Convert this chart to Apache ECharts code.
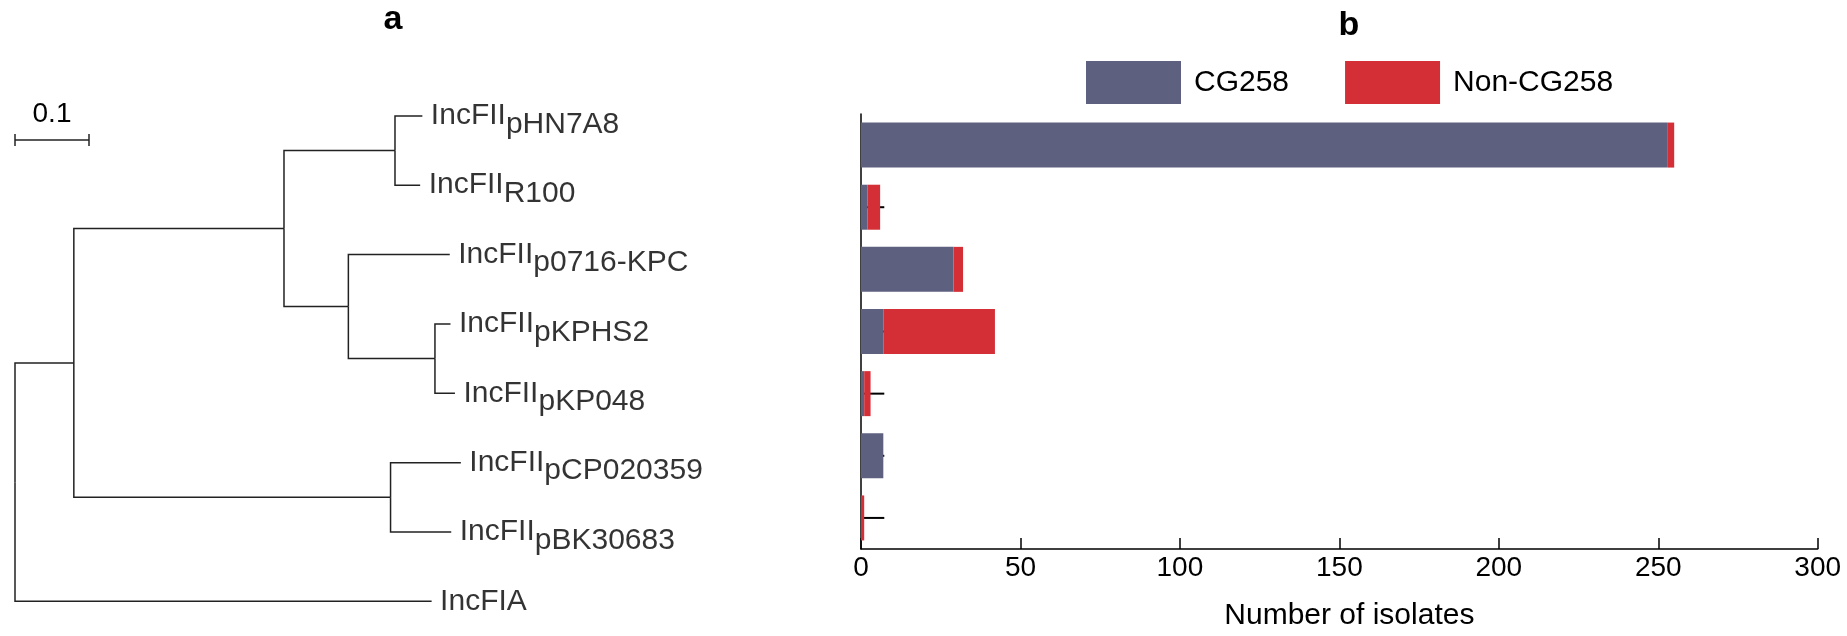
<!DOCTYPE html>
<html><head><meta charset="utf-8">
<script src="https://cdn.jsdelivr.net/npm/echarts@6/dist/echarts.min.js"></script>
<style>html,body{margin:0;padding:0;background:#fff}#c{width:1847px;height:636px}</style>
</head><body><div id="c"></div>
<script>
// ---- bar chart data (panel b) ----
const categories = ['pHN7A8','R100','p0716-KPC','pKPHS2','pKP048','pCP020359','pBK30683'];
const cg258 = [253, 2, 29, 7, 1, 7, 0];
const nonCg258 = [2, 4, 3, 35, 2, 0, 1];
const whiskerEnd = [7.3, 7.3, 7.3, 7.3, 7.3, 7.3, 7.3];
const xTicks = [0, 50, 100, 150, 200, 250, 300];
const seriesNames = ['CG258', 'Non-CG258'];

// ---- tree data (panel a) ----
const treeNodes = ['root','n1','n2','n3','pHN7A8','R100','n4','p0716-KPC','n5','pKPHS2','pKP048','n6','pCP020359','pBK30683','IncFIA'];
const treeParents = [null,'root','n1','n2','n3','n3','n2','n4','n4','n5','n5','n1','n6','n6','root'];
const branchLengths = [0, 0.0795, 0.284, 0.150, 0.037, 0.034, 0.087, 0.137, 0.117, 0.021, 0.027, 0.428, 0.095, 0.082, 0.563];
const familyName = 'IncFII';
const scaleBarLength = [0.1];

const FONT = 'Liberation Sans, Arial, Helvetica, sans-serif';

// tree layout from structure
const idx = {}; treeNodes.forEach((nm, i) => idx[nm] = i);
const children = treeNodes.map(() => []);
treeParents.forEach((p, i) => { if (p !== null) children[idx[p]].push(i); });
const X = [], Y = [];
let leafCount = 0;
function walk(i, x) {
  X[i] = x + branchLengths[i];
  if (!children[i].length) { Y[i] = leafCount++; }
  else {
    children[i].forEach(c => walk(c, X[i]));
    Y[i] = children[i].reduce((s, c) => s + Y[c], 0) / children[i].length;
  }
}
walk(0, 0);
const branchData = [];
treeNodes.forEach((nm, i) => {
  const p = treeParents[i];
  if (p === null) return;
  const pi = idx[p];
  branchData.push({ coords: [[X[pi], Y[pi]], [X[pi], Y[i]], [X[i], Y[i]]] });
});
const leafData = [];
treeNodes.forEach((nm, i) => {
  if (!children[i].length) leafData.push({ name: nm, value: [X[i], Y[i]] });
});

const chart = echarts.init(document.getElementById('c'));
const leafSpacing = 69.9, leaf0Y = 116.7;
chart.setOption({
  animation: false,
  textStyle: { fontFamily: FONT },
  title: [
    { text: 'a', left: 393, top: 3, textAlign: 'center', padding: 0,
      textStyle: { fontSize: 34, fontWeight: 'bold', color: '#000', fontFamily: FONT } },
    { text: 'b', left: 1349, top: 9, textAlign: 'center', padding: 0,
      textStyle: { fontSize: 34, fontWeight: 'bold', color: '#000', fontFamily: FONT } }
  ],
  legend: {
    data: seriesNames, left: 1086, top: 61, padding: 0, itemGap: 56,
    itemWidth: 95, itemHeight: 43, icon: 'rect',
    textStyle: { fontSize: 30, color: '#000', fontFamily: FONT, padding: [0, 0, 0, 8] }
  },
  grid: [
    { left: 15, top: leaf0Y - 1.5 * leafSpacing, width: 740, height: 9 * leafSpacing },
    { left: 861, right: 29.3, top: 114, bottom: 82 }
  ],
  xAxis: [
    { gridIndex: 0, type: 'value', min: 0, max: 1, show: false },
    { gridIndex: 1, type: 'value', min: xTicks[0], max: xTicks[xTicks.length - 1], interval: xTicks[1] - xTicks[0],
      axisLine: { show: true, lineStyle: { color: '#000', width: 1.5 } },
      axisTick: { show: true, inside: true, length: 11, lineStyle: { color: '#000', width: 1.5 } },
      axisLabel: { fontSize: 28, color: '#000', margin: 5, fontFamily: FONT },
      splitLine: { show: false },
      name: 'Number of isolates', nameLocation: 'middle', nameGap: 52,
      nameTextStyle: { fontSize: 30, color: '#000', fontFamily: FONT, padding: [0, 0, 0, 20] } }
  ],
  yAxis: [
    { gridIndex: 0, type: 'value', min: -1.5, max: 7.5, inverse: true, show: false },
    { gridIndex: 1, type: 'category', data: categories, inverse: true,
      axisLine: { show: true, lineStyle: { color: '#000', width: 1.5 } },
      axisTick: { show: false }, axisLabel: { show: false } }
  ],
  series: [
    { type: 'lines', coordinateSystem: 'cartesian2d', xAxisIndex: 0, yAxisIndex: 0,
      polyline: true, silent: true, clip: false,
      lineStyle: { color: '#222', width: 1.5, opacity: 1 }, data: branchData },
    { type: 'scatter', xAxisIndex: 0, yAxisIndex: 0, symbolSize: 1, silent: true,
      itemStyle: { color: 'rgba(0,0,0,0)' }, data: leafData,
      label: { show: true, position: 'right', distance: 8, color: '#000',
        formatter: p => categories.indexOf(p.name) >= 0 ? '{m|' + familyName + '}{s|' + p.name + '}' : '{m|' + p.name + '}',
        rich: {
          m: { fontSize: 30, color: '#000', fontFamily: FONT },
          s: { fontSize: 30, color: '#000', fontFamily: FONT, padding: [17, 0, 0, 0] }
        } } },
    { type: 'custom', xAxisIndex: 0, yAxisIndex: 0, silent: true,
      data: scaleBarLength.map(v => [0, v]),
      renderItem: (params, api) => {
        const yBar = 0.348;
        const a = api.coord([api.value(0), yBar]);
        const b = api.coord([api.value(0) + api.value(1), yBar]);
        const st = { stroke: '#222', lineWidth: 1.5 };
        return { type: 'group', children: [
          { type: 'line', shape: { x1: a[0], y1: a[1], x2: b[0], y2: b[1] }, style: st },
          { type: 'line', shape: { x1: a[0], y1: a[1] - 6, x2: a[0], y2: a[1] + 6 }, style: st },
          { type: 'line', shape: { x1: b[0], y1: b[1] - 6, x2: b[0], y2: b[1] + 6 }, style: st },
          { type: 'text', style: { text: String(api.value(1)), x: (a[0] + b[0]) / 2, y: a[1] - 26,
              align: 'center', verticalAlign: 'middle', fontSize: 28, fontFamily: FONT, fill: '#000' } }
        ] };
      } },
    { type: 'custom', xAxisIndex: 1, yAxisIndex: 1, silent: true, z: 1,
      data: whiskerEnd.map((v, i) => [v, i]),
      renderItem: (params, api) => {
        const a = api.coord([0, api.value(1)]);
        const b = api.coord([api.value(0), api.value(1)]);
        return { type: 'line', shape: { x1: a[0], y1: a[1], x2: b[0], y2: b[1] }, style: { stroke: '#000', lineWidth: 2 } };
      } },
    { name: seriesNames[0], type: 'bar', stack: 'total', xAxisIndex: 1, yAxisIndex: 1, z: 3,
      barWidth: 45, itemStyle: { color: '#5e6080' }, data: cg258 },
    { name: seriesNames[1], type: 'bar', stack: 'total', xAxisIndex: 1, yAxisIndex: 1, z: 3,
      barWidth: 45, itemStyle: { color: '#d42f37' }, data: nonCg258 }
  ]
});
</script></body></html>
